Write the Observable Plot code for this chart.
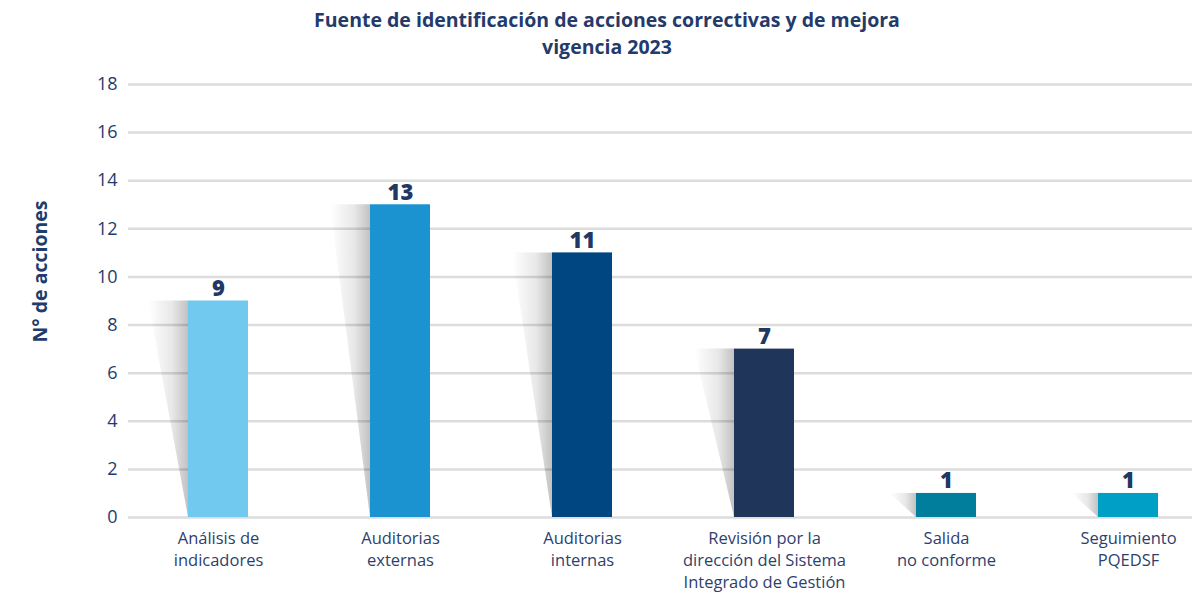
<!DOCTYPE html>
<html>
<head>
<meta charset="utf-8">
<script src="https://cdn.jsdelivr.net/npm/d3@7"></script>
<script src="https://cdn.jsdelivr.net/npm/@observablehq/plot@0.6"></script>
<style>
  body { margin: 0; background: #fff; font-family: "Open Sans", sans-serif; }
  #title { width: 1192px; height: 62px; box-sizing: border-box; padding-top: 6px; padding-left: 22px;
           text-align: center; font-weight: 700; font-size: 19.5px; line-height: 27px; color: #243a6a; }
  #chart svg { display: block; }
</style>
</head>
<body>
<div id="title">Fuente de identificación de acciones correctivas y de mejora<br>vigencia 2023</div>
<div id="chart"></div>
<script>
const categories = ["analisis", "externas", "internas", "revision", "salida", "seguimiento"];
const labels = [
  "Análisis de\nindicadores",
  "Auditorias\nexternas",
  "Auditorias\ninternas",
  "Revisión por la\ndirección del Sistema\nIntegrado de Gestión",
  "Salida\nno conforme",
  "Seguimiento\nPQEDSF"
];
const values = [9, 13, 11, 7, 1, 1];
const colors = ["#72c9ef", "#1a93d0", "#004680", "#1f3559", "#017e9b", "#00a0c6"];
const yTicks = [0, 2, 4, 6, 8, 10, 12, 14, 16, 18];
const yLabel = "N° de acciones";

const data = categories.map((c, i) => ({key: c, label: labels[i], value: values[i], color: colors[i]}));
const labelOf = new Map(categories.map((c, i) => [c, labels[i]]));

const shadowRender = (index, scales, vals, dims, context) => {
  const g = d3.create("svg:g");
  const defs = g.append("defs");
  const grad = defs.append("linearGradient").attr("id", "shadowGrad")
    .attr("x1", 1).attr("x2", 0).attr("y1", 0).attr("y2", 0);
  grad.append("stop").attr("offset", 0).attr("stop-color", "#000").attr("stop-opacity", 0.24);
  grad.append("stop").attr("offset", 0.4).attr("stop-color", "#000").attr("stop-opacity", 0.09);
  grad.append("stop").attr("offset", 1).attr("stop-color", "#000").attr("stop-opacity", 0);
  for (const i of index) {
    const x0 = vals.x[i];
    const yb = vals.y1[i], yt = vals.y2[i];
    const top = Math.min(yb, yt), bot = Math.max(yb, yt);
    const w = Math.min(40, (bot - top) * 1.1);
    g.append("polygon")
      .attr("points", `${x0},${top} ${x0 - w},${top} ${x0},${bot}`)
      .attr("fill", "url(#shadowGrad)");
  }
  return g.node();
};

const plot = Plot.plot({
  width: 1192,
  height: 531,
  marginTop: 22,
  marginBottom: 76,
  marginLeft: 128,
  marginRight: 0,
  style: {fontFamily: "Open Sans, sans-serif", background: "#fff"},
  x: {domain: categories, range: [127, 1219], paddingInner: 0.67, paddingOuter: 0.335, label: null},
  y: {domain: [0, 18], label: null},
  marks: [
    Plot.ruleY(yTicks, {stroke: "#dcdcdc", strokeWidth: 2.5}),
    Plot.axisY(yTicks, {tickSize: 0, tickPadding: 11, fontSize: 18, fill: "#1f3c6c", label: null}),
    Plot.axisX({tickSize: 0, tickPadding: 11, fontSize: 16.5, lineHeight: 1.32, fill: "#2e3f6d",
                tickFormat: d => labelOf.get(d), label: null}),
    Plot.barY(data, {x: "key", y: "value", fill: "none", render: shadowRender}),
    Plot.barY(data, {x: "key", y: "value", fill: "color"}),
    Plot.text(data, {x: "key", y: "value", text: d => String(d.value), lineAnchor: "bottom", dy: -5,
                     fontSize: 22, fontWeight: 800, fill: "#1f3864"}),
    Plot.text([yLabel], {frameAnchor: "left", textAnchor: "middle", rotate: -90, dx: -88, dy: -29.5,
                         fontSize: 19.5, fontWeight: 700, fill: "#1f3c6c"})
  ]
});
document.getElementById("chart").appendChild(plot);
</script>
</body>
</html>
